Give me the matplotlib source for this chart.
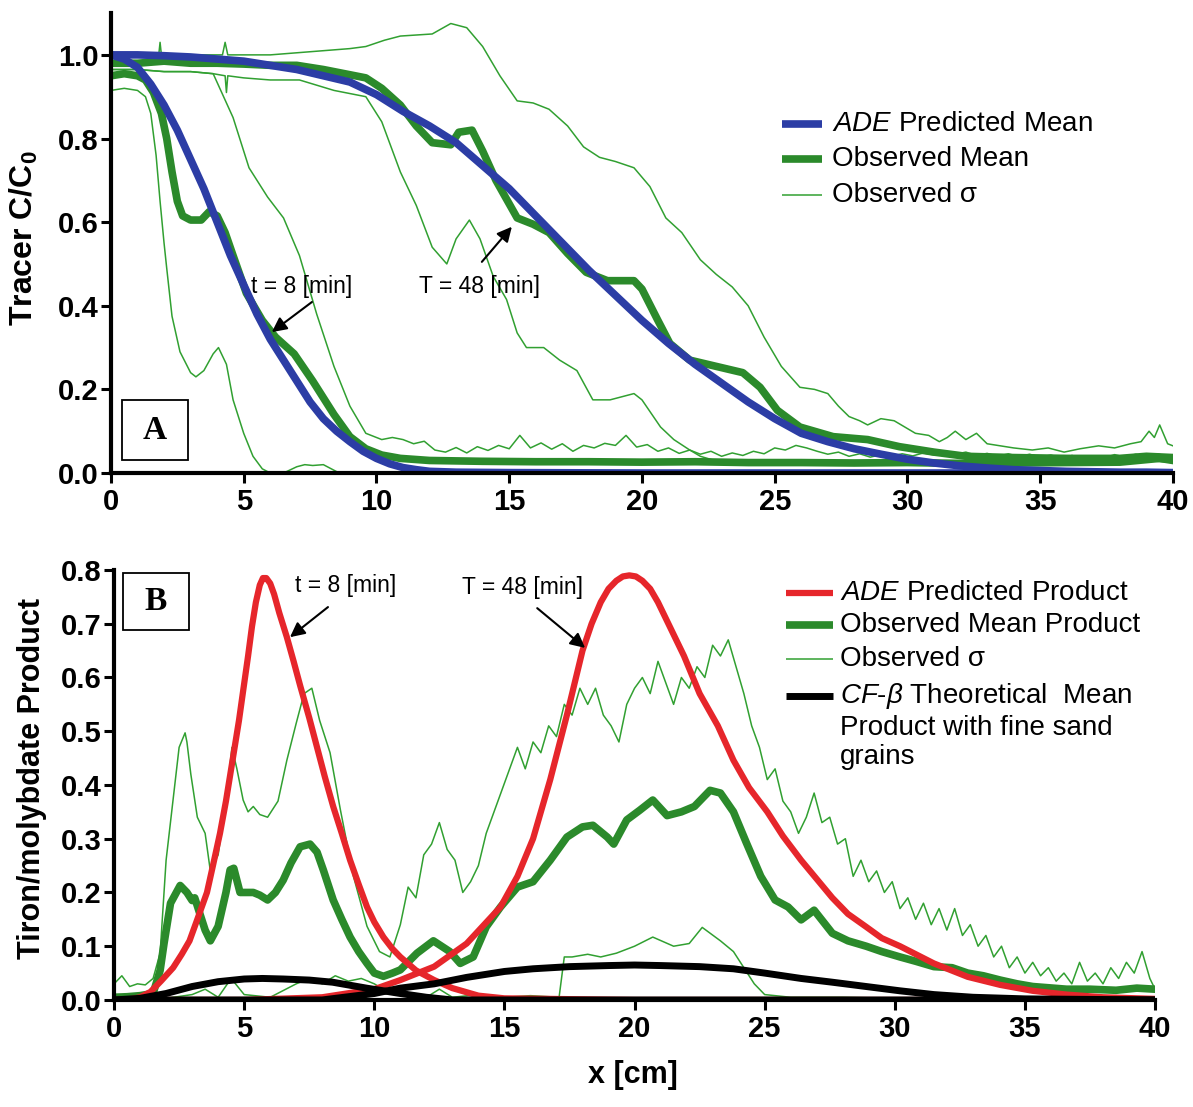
import matplotlib
matplotlib.use("Agg")
from matplotlib import pyplot as plt
from matplotlib.patches import Rectangle

# fonts: Arial-like sans, italic/bold pieces go through mathtext
plt.rcParams['font.family'] = ['Liberation Sans', 'DejaVu Sans']
plt.rcParams['mathtext.fontset'] = 'custom'
plt.rcParams['mathtext.rm'] = 'Liberation Sans'
plt.rcParams['mathtext.it'] = 'Liberation Sans:italic'
plt.rcParams['mathtext.bf'] = 'Liberation Sans:bold'

# ---------------- panel A : tracer C/C0 ----------------
xa_ade8 = [0, 0.5, 1, 1.5, 2, 2.5, 3, 3.5, 4, 4.5, 5, 5.5, 6, 6.5, 7, 7.5, 8, 8.5, 9, 9.5,
           10, 10.5, 11, 11.5, 12, 13, 15, 20, 30, 40]
ya_ade8 = [1.0, 0.99, 0.97, 0.93, 0.88, 0.82, 0.75, 0.68, 0.60, 0.52, 0.45, 0.38, 0.32, 0.27,
           0.22, 0.17, 0.13, 0.10, 0.075, 0.052, 0.035, 0.022, 0.013, 0.008, 0.004, 0.002,
           0.001, 0, 0, 0]

xa_ade48 = list(range(0, 41))
ya_ade48 = [1.0, 1.0, 0.998, 0.995, 0.99, 0.985, 0.975, 0.965, 0.95, 0.935, 0.905, 0.865,
            0.83, 0.79, 0.735, 0.68, 0.615, 0.55, 0.485, 0.425, 0.365, 0.31, 0.26, 0.215,
            0.17, 0.13, 0.095, 0.075, 0.058, 0.045, 0.033, 0.024, 0.017, 0.012, 0.008,
            0.006, 0.004, 0.003, 0.002, 0.002, 0.001]

xa_mean8 = [0, 0.5, 1.0, 1.3, 1.6, 1.9, 2.1, 2.3, 2.5, 2.7, 3.0, 3.4, 3.7, 4.0, 4.3, 4.6,
            5.1, 5.7, 6.2, 6.9, 7.6, 8.0, 8.4, 9.0, 9.6, 10.2, 10.9, 12, 14, 16, 18, 20,
            22, 24, 26, 28, 30, 32, 34, 36, 38, 39, 39.5, 40]
ya_mean8 = [0.95, 0.955, 0.95, 0.94, 0.91, 0.86, 0.80, 0.72, 0.65, 0.615, 0.605, 0.605,
            0.625, 0.615, 0.575, 0.52, 0.43, 0.365, 0.325, 0.285, 0.22, 0.18, 0.14, 0.087,
            0.058, 0.043, 0.035, 0.03, 0.028, 0.027, 0.027, 0.026, 0.027, 0.025, 0.025,
            0.024, 0.025, 0.023, 0.024, 0.025, 0.026, 0.032, 0.035, 0.03]

xa_mean48 = [0, 1, 2, 3, 4, 5, 6, 7, 8, 8.4, 9.6, 10.2, 10.9, 11.5, 12.1, 12.8, 13.1, 13.6,
             14.0, 14.5, 14.9, 15.3, 15.9, 16.5, 17.2, 17.9, 18.7, 19.7, 20.0, 20.6, 21.05,
             21.8, 22.8, 23.8, 24.45, 25.1, 25.95, 27.2, 28.5, 29.7, 31, 32.2, 34, 36, 38,
             39, 40]
ya_mean48 = [0.98, 0.98, 0.985, 0.98, 0.98, 0.978, 0.975, 0.975, 0.965, 0.96, 0.945, 0.92,
             0.88, 0.83, 0.79, 0.785, 0.815, 0.82, 0.77, 0.70, 0.655, 0.61, 0.595, 0.575,
             0.525, 0.48, 0.46, 0.46, 0.44, 0.365, 0.31, 0.27, 0.255, 0.24, 0.205, 0.15,
             0.11, 0.087, 0.08, 0.063, 0.05, 0.04, 0.037, 0.035, 0.035, 0.04, 0.037]

# observed sigma envelopes (thin lines)
xa_s8_lo = [0, 0.5, 1.0, 1.3, 1.5, 1.7, 1.85, 2.0, 2.1, 2.3, 2.6, 3.0, 3.2, 3.5, 3.85, 4.05,
            4.35, 4.6, 5.0, 5.35, 5.7, 6.0, 6.5, 7.0, 7.3, 7.6, 8.0, 8.3, 8.6, 9, 10, 20, 40]
ya_s8_lo = [0.915, 0.92, 0.915, 0.90, 0.86, 0.76, 0.65, 0.55, 0.49, 0.375, 0.29, 0.24, 0.23,
            0.245, 0.285, 0.30, 0.26, 0.175, 0.095, 0.04, 0.01, 0.0, 0.0, 0.015, 0.02, 0.018,
            0.02, 0.01, 0.0, 0.0, 0, 0, 0]

# t = 8 upper sigma: smooth drop, then a noisy baseline read every 0.4 cm
xa_s8_hi = [0, 1, 2, 3, 3.85, 4.6, 5.2, 5.9, 6.5, 7.1, 7.75, 8.4, 9.0, 9.6, 10.2, 10.6] \
    + [round(11 + 0.4 * i, 1) for i in range(73)]
ya_s8_hi = [0.965, 0.965, 0.96, 0.96, 0.955, 0.85, 0.73, 0.66, 0.61, 0.52, 0.38, 0.255,
            0.16, 0.095, 0.08, 0.085,
            0.080, 0.070, 0.076, 0.055, 0.050, 0.061, 0.048, 0.063, 0.054, 0.066, 0.058,
            0.090, 0.060, 0.072, 0.057, 0.070, 0.052, 0.066, 0.060, 0.071, 0.066, 0.090,
            0.062, 0.068, 0.052, 0.060, 0.047, 0.055, 0.045, 0.052, 0.040, 0.048, 0.042,
            0.052, 0.046, 0.060, 0.055, 0.066, 0.060, 0.052, 0.045, 0.050, 0.040, 0.046,
            0.038, 0.044, 0.040, 0.046, 0.041, 0.048, 0.043, 0.052, 0.045, 0.050, 0.042,
            0.047, 0.040, 0.046, 0.039, 0.045, 0.038, 0.043, 0.036, 0.042, 0.035, 0.041,
            0.036, 0.044, 0.038, 0.045, 0.040, 0.046, 0.040]

xa_s48_hi = [0, 1, 1.8, 1.85, 1.9, 3, 4.2, 4.3, 4.4, 5, 6, 7, 8, 9, 9.6, 10.3, 10.9, 12.1,
             12.8, 13.4, 14.0, 14.65, 15.3, 15.9, 16.5, 17.2, 17.8, 18.4, 19.0, 19.7, 20.3,
             20.9, 21.5, 22.2, 22.8, 23.4, 24.0, 24.6, 25.25, 25.95, 26.5, 27.0, 27.4, 27.8,
             28.2, 28.5, 29.0, 29.5, 29.9, 30.3, 30.8, 31.2, 31.5, 31.8, 32.2, 32.6, 33.0,
             33.5, 34.0, 34.7, 35.3, 35.9, 36.5, 37.2, 37.8, 38.4, 38.8, 39.1, 39.3, 39.5,
             39.8, 40]
ya_s48_hi = [0.995, 1.0, 1.0, 1.03, 1.0, 1.0, 1.0, 1.03, 1.0, 1.0, 1.0, 1.005, 1.01, 1.015,
             1.02, 1.035, 1.045, 1.05, 1.075, 1.065, 1.02, 0.95, 0.89, 0.885, 0.87, 0.83,
             0.78, 0.755, 0.745, 0.73, 0.685, 0.61, 0.575, 0.51, 0.475, 0.445, 0.40, 0.325,
             0.255, 0.205, 0.2, 0.19, 0.16, 0.135, 0.125, 0.115, 0.13, 0.125, 0.11, 0.095,
             0.09, 0.075, 0.085, 0.1, 0.08, 0.095, 0.07, 0.065, 0.06, 0.055, 0.06, 0.05,
             0.058, 0.065, 0.06, 0.07, 0.075, 0.1, 0.085, 0.115, 0.07, 0.065]

xa_s48_lo = [0, 1, 2, 3, 3.85, 4.3, 4.35, 4.4, 5, 6, 7.1, 8.4, 9.6, 10.2, 10.9, 11.5, 12.1,
             12.65, 13.0, 13.5, 13.9, 14.4, 14.9, 15.3, 15.65, 16.3, 16.9, 17.55, 18.15,
             18.8, 19.7, 20.0, 20.7, 21.2, 21.8, 22.2, 23, 24, 25, 26, 27, 28, 29, 30, 31,
             32, 33, 34, 35, 36, 37, 38, 39, 40]
ya_s48_lo = [0.965, 0.965, 0.96, 0.96, 0.955, 0.95, 0.91, 0.95, 0.945, 0.94, 0.94, 0.915,
             0.90, 0.84, 0.72, 0.64, 0.54, 0.50, 0.56, 0.605, 0.56, 0.47, 0.415, 0.335, 0.30,
             0.30, 0.27, 0.245, 0.175, 0.175, 0.19, 0.175, 0.11, 0.08, 0.055, 0.04, 0.025,
             0.02, 0.025, 0.02, 0.03, 0.025, 0.02, 0.025, 0.03, 0.025, 0.02, 0.025, 0.03,
             0.025, 0.03, 0.025, 0.03, 0.025]

# ---------------- panel B : product ----------------
xb_ade8 = [0, 0.5, 1.0, 1.4, 1.8, 2.27, 2.6, 2.9, 3.2, 3.57, 3.8, 4.07, 4.3, 4.6, 4.8, 4.96,
           5.15, 5.3, 5.45, 5.6, 5.72, 5.85, 6.0, 6.15, 6.35, 6.64, 6.9, 7.15, 7.5, 7.8,
           8.1, 8.42, 8.75, 9.07, 9.4, 9.72, 10.0, 10.35, 10.7, 11.0, 11.6, 12.3, 13, 14,
           15, 20, 40]
yb_ade8 = [0.0, 0.0, 0.005, 0.015, 0.035, 0.06, 0.085, 0.11, 0.15, 0.2, 0.25, 0.31, 0.37,
           0.46, 0.52, 0.575, 0.64, 0.695, 0.74, 0.772, 0.785, 0.785, 0.775, 0.755, 0.72,
           0.675, 0.63, 0.585, 0.525, 0.47, 0.415, 0.36, 0.31, 0.26, 0.215, 0.173, 0.145,
           0.117, 0.095, 0.08, 0.055, 0.037, 0.022, 0.008, 0.003, 0, 0]

xb_ade48 = [0, 5, 8, 10, 11.0, 12.3, 13.55, 14.85, 15.5, 16.1, 16.76, 17.4, 18.0, 18.35, 18.7,
            19.0, 19.3, 19.55, 19.8, 20.05, 20.3, 20.6, 20.9, 21.25, 21.9, 22.5, 23.2, 23.8,
            24.4, 25.1, 25.7, 26.4, 27.0, 27.6, 28.2, 28.9, 29.5, 30.2, 31.5, 32.8, 34.05,
            35.3, 36.6, 38, 40]
yb_ade48 = [0, 0, 0.005, 0.02, 0.037, 0.062, 0.105, 0.173, 0.23, 0.30, 0.41, 0.53, 0.65,
            0.70, 0.74, 0.765, 0.78, 0.788, 0.79, 0.788, 0.78, 0.765, 0.74, 0.705, 0.64,
            0.57, 0.51, 0.446, 0.395, 0.35, 0.305, 0.26, 0.225, 0.19, 0.16, 0.136, 0.115,
            0.1, 0.068, 0.043, 0.028, 0.017, 0.01, 0.005, 0.002]

xb_cf8 = [0, 1, 2, 3, 4, 5, 5.7, 6.5, 7.5, 8.4, 9.7, 11, 12, 13, 40]
yb_cf8 = [0, 0.003, 0.012, 0.025, 0.034, 0.039, 0.04, 0.039, 0.037, 0.033, 0.022, 0.012,
          0.005, 0, 0]
xb_cf48 = [0, 8, 10, 11, 12.3, 13.55, 15, 16.1, 17.5, 19, 20, 21, 22.5, 23.8, 25, 26.4, 27.6,
           28.9, 30.2, 31.5, 33, 35, 40]
yb_cf48 = [0, 0, 0.012, 0.022, 0.03, 0.042, 0.053, 0.058, 0.062, 0.064, 0.065, 0.064, 0.062,
           0.058, 0.05, 0.04, 0.033, 0.025, 0.017, 0.01, 0.005, 0.002, 0]

xb_mean = [0, 0.5, 1.0, 1.5, 1.77, 1.92, 2.17, 2.54, 2.8, 3.0, 3.1, 3.3, 3.5, 3.7, 4.0, 4.3,
           4.46, 4.6, 4.84, 5.1, 5.35, 5.6, 5.9, 6.2, 6.5, 6.8, 7.15, 7.53, 7.8, 8.04, 8.42,
           8.75, 9.07, 9.4, 9.72, 10.0, 10.35, 10.7, 11.0, 11.64, 12.27, 12.9, 13.3, 13.8,
           14.3, 14.85, 15.5, 16.1, 16.76, 17.4, 18.0, 18.4, 18.95, 19.2, 19.7, 20.2, 20.7,
           21.25, 21.8, 22.3, 22.9, 23.3, 23.8, 24.3, 24.85, 25.4, 25.9, 26.4, 26.9, 27.6,
           28.2, 28.9, 29.5, 30.2, 30.8, 31.5, 32.2, 32.8, 33.4, 34.05, 34.7, 35.3, 36.6,
           37.5, 38.5, 39.3, 40]
yb_mean = [0.005, 0.006, 0.008, 0.012, 0.055, 0.105, 0.18, 0.213, 0.2, 0.185, 0.19, 0.16,
           0.13, 0.11, 0.137, 0.2, 0.242, 0.245, 0.2, 0.2, 0.2, 0.195, 0.186, 0.2, 0.223,
           0.255, 0.285, 0.29, 0.275, 0.242, 0.186, 0.15, 0.117, 0.09, 0.068, 0.05, 0.044,
           0.05, 0.056, 0.087, 0.11, 0.09, 0.068, 0.08, 0.136, 0.173, 0.21, 0.22, 0.26,
           0.303, 0.322, 0.325, 0.303, 0.29, 0.335, 0.353, 0.372, 0.343, 0.35, 0.36, 0.39,
           0.385, 0.35, 0.292, 0.23, 0.186, 0.173, 0.149, 0.167, 0.124, 0.11, 0.1, 0.09,
           0.08, 0.072, 0.062, 0.06, 0.05, 0.045, 0.037, 0.03, 0.025, 0.02, 0.02, 0.018,
           0.022, 0.02]

# upper sigma: early peaks, then a noisy stretch read every 0.3 cm
xb_s_hi = [0, 0.3, 0.6, 0.9, 1.2, 1.5, 1.77, 2.0, 2.3, 2.5, 2.73, 2.8, 2.95, 3.2, 3.5, 3.7,
           4.0, 4.34, 4.53, 4.72, 4.96, 5.15, 5.35, 5.6, 5.9, 6.3, 6.64, 7.0, 7.3, 7.6, 7.9,
           8.3, 8.7, 9.2, 9.72, 10.2, 10.6] \
    + [round(11 + 0.3 * i, 1) for i in range(97)] + [39.95]
yb_s_hi = [0.03, 0.045, 0.025, 0.03, 0.028, 0.04, 0.087, 0.26, 0.385, 0.47, 0.497, 0.48,
           0.42, 0.34, 0.31, 0.24, 0.27, 0.385, 0.47, 0.43, 0.372, 0.35, 0.36, 0.345, 0.34,
           0.37, 0.446, 0.515, 0.57, 0.58, 0.52, 0.46, 0.353, 0.23, 0.137, 0.09, 0.08,
           0.14, 0.21, 0.19, 0.27, 0.29, 0.33, 0.28, 0.26, 0.20, 0.22, 0.25, 0.31, 0.35,
           0.39, 0.43, 0.47, 0.43, 0.48, 0.46, 0.51, 0.49, 0.55, 0.53, 0.58, 0.55, 0.58,
           0.53, 0.51, 0.48, 0.55, 0.58, 0.60, 0.57, 0.63, 0.59, 0.55, 0.60, 0.58, 0.62,
           0.60, 0.66, 0.64, 0.67, 0.62, 0.57, 0.51, 0.47, 0.41, 0.43, 0.37, 0.35, 0.31,
           0.34, 0.385, 0.33, 0.34, 0.29, 0.30, 0.23, 0.26, 0.22, 0.24, 0.20, 0.22, 0.17,
           0.19, 0.15, 0.18, 0.14, 0.17, 0.13, 0.17, 0.12, 0.14, 0.10, 0.12, 0.08, 0.10,
           0.06, 0.08, 0.05, 0.07, 0.045, 0.06, 0.035, 0.05, 0.03, 0.07, 0.035, 0.05, 0.03,
           0.06, 0.04, 0.07, 0.05, 0.09, 0.04, 0.025]

xb_s_lo = [0, 1, 2, 3, 3.5, 4, 4.5, 5, 6, 7, 7.5, 8, 8.5, 9, 9.5, 10, 10.5, 11, 12, 12.5, 13,
           14, 15, 16, 17.1, 17.3, 17.6, 18.2, 18.7, 19.3, 20.0, 20.7, 21.5, 22.1, 22.6,
           23.3, 23.8, 24.2, 24.6, 25, 26, 28, 30, 35, 40]
yb_s_lo = [0.005, 0.005, 0.003, 0.01, 0.02, 0.005, 0.04, 0.01, 0.005, 0.03, 0.04, 0.03,
           0.045, 0.035, 0.04, 0.03, 0.015, 0.01, 0.005, 0.02, 0.005, 0.01, 0.005, 0.008,
           0.005, 0.08, 0.08, 0.085, 0.08, 0.087, 0.1, 0.117, 0.1, 0.105, 0.135, 0.11, 0.09,
           0.06, 0.03, 0.01, 0.005, 0.005, 0.003, 0.002, 0.002]

x_ticks = [0, 5, 10, 15, 20, 25, 30, 35, 40]
ya_ticks = [0.0, 0.2, 0.4, 0.6, 0.8, 1.0]
yb_ticks = [0.0, 0.1, 0.2, 0.3, 0.4, 0.5, 0.6, 0.7, 0.8]

BLUE = '#2c3da5'
GREEN = '#2b8a2b'
GREEN_THIN = '#31a031'
RED = '#e6262b'

fig = plt.figure(figsize=(11.93, 11.07), dpi=100)
axA = fig.add_axes([0.0930, 0.5727, 0.8902, 0.4155])
axB = fig.add_axes([0.0956, 0.0967, 0.8726, 0.3884])


def style_axis(ax, yticks):
    for s in ['top', 'right']:
        ax.spines[s].set_visible(False)
    for s in ['left', 'bottom']:
        ax.spines[s].set_linewidth(3)
    ax.set_xlim(0, 40)
    ax.set_xticks(x_ticks, [str(t) for t in x_ticks], fontweight='bold')
    ax.set_yticks(yticks, ['%.1f' % t for t in yticks], fontweight='bold')
    ax.tick_params(axis='both', direction='out', length=7, width=2.2, labelsize=21)
    ax.tick_params(axis='x', pad=4)
    ax.tick_params(axis='y', pad=2)


def legend_row(ax, y, color, lw, label, x0, x1, xt):
    ax.plot([x0, x1], [y, y], color=color, lw=lw, transform=ax.transAxes,
            clip_on=False, solid_capstyle='butt')
    ax.text(xt, y, label, transform=ax.transAxes, fontsize=20, va='center', ha='left')


def panel_box(ax, x0, y0, w, h, letter):
    ax.add_patch(Rectangle((x0, y0), w, h, transform=ax.transAxes, fill=False,
                           lw=1.3, edgecolor='black', clip_on=False))
    ax.text(x0 + w / 2, y0 + h / 2, letter, transform=ax.transAxes, ha='center',
            va='center', fontsize=24, fontweight='bold', family='Liberation Serif')


# ---------- panel A ----------
kw_thin = dict(color=GREEN_THIN, lw=1.1)
axA.plot(xa_s8_lo, ya_s8_lo, **kw_thin)
axA.plot(xa_s8_hi, ya_s8_hi, **kw_thin)
axA.plot(xa_s48_lo, ya_s48_lo, **kw_thin)
axA.plot(xa_s48_hi, ya_s48_hi, **kw_thin)
axA.plot(xa_mean8, ya_mean8, color=GREEN, lw=5.5, solid_joinstyle='round')
axA.plot(xa_mean48, ya_mean48, color=GREEN, lw=5.5, solid_joinstyle='round')
axA.plot(xa_ade8, ya_ade8, color=BLUE, lw=5.5, solid_joinstyle='round')
axA.plot(xa_ade48, ya_ade48, color=BLUE, lw=5.5, solid_joinstyle='round')
style_axis(axA, ya_ticks)
axA.set_ylim(0, 1.1)
axA.set_ylabel('Tracer C/C$_{\\mathbf{0}}$', fontsize=23, fontweight='bold')
axA.yaxis.set_label_coords(-0.067, 0.511)

arrow = dict(arrowstyle='-|>', color='black', lw=1.5, mutation_scale=22,
             shrinkA=0, shrinkB=0)
axA.text(7.2, 0.445, 't = 8 [min]', fontsize=16.5, ha='center', va='center')
axA.annotate('', xy=(6.06, 0.337), xytext=(7.57, 0.409), arrowprops=arrow)
axA.text(13.9, 0.445, 'T = 48 [min]', fontsize=16.5, ha='center', va='center')
axA.annotate('', xy=(15.1, 0.589), xytext=(13.97, 0.505), arrowprops=arrow)

legend_row(axA, 0.758, BLUE, 5.5, r'$\mathit{ADE}$ Predicted Mean', 0.632, 0.670, 0.679)
legend_row(axA, 0.682, GREEN, 5.5, 'Observed Mean', 0.632, 0.670, 0.679)
legend_row(axA, 0.604, GREEN_THIN, 1.1, 'Observed σ', 0.632, 0.670, 0.679)
panel_box(axA, 0.0104, 0.028, 0.062, 0.131, 'A')

# ---------- panel B ----------
axB.plot(xb_s_lo, yb_s_lo, **kw_thin)
axB.plot(xb_s_hi, yb_s_hi, **kw_thin)
axB.plot(xb_mean, yb_mean, color=GREEN, lw=5.5, solid_joinstyle='round')
axB.plot(xb_ade8, yb_ade8, color=RED, lw=4.5, solid_joinstyle='round')
axB.plot(xb_ade48, yb_ade48, color=RED, lw=4.5, solid_joinstyle='round')
axB.plot(xb_cf8, yb_cf8, color='black', lw=5, solid_joinstyle='round')
axB.plot(xb_cf48, yb_cf48, color='black', lw=5, solid_joinstyle='round')
style_axis(axB, yb_ticks)
axB.set_ylim(0, 0.8)
axB.set_ylabel('Tiron/molybdate Product', fontsize=22, fontweight='bold')
axB.yaxis.set_label_coords(-0.064, 0.516)
axB.set_xlabel('x [cm]', fontsize=22, fontweight='bold')
axB.xaxis.set_label_coords(0.4985, -0.14)

axB.text(8.88, 0.772, 't = 8 [min]', fontsize=16.5, ha='center', va='center')
axB.annotate('', xy=(6.76, 0.675), xytext=(8.22, 0.731), arrowprops=arrow)
axB.text(15.68, 0.767, 'T = 48 [min]', fontsize=16.5, ha='center', va='center')
axB.annotate('', xy=(18.1, 0.655), xytext=(16.26, 0.729), arrowprops=arrow)

legend_row(axB, 0.946, RED, 4.5, r'$\mathit{ADE}$ Predicted Product', 0.645, 0.691, 0.697)
legend_row(axB, 0.873, GREEN, 5.5, 'Observed Mean Product', 0.645, 0.691, 0.697)
legend_row(axB, 0.792, GREEN_THIN, 1.1, 'Observed σ', 0.645, 0.691, 0.697)
axB.plot([0.645, 0.691], [0.707, 0.707], color='black', lw=5, transform=axB.transAxes,
         clip_on=False, solid_capstyle='butt')
axB.text(0.697, 0.742, r'$\mathit{CF}$-$\mathit{\beta}$ Theoretical  Mean' + '\n'
         + 'Product with fine sand\ngrains', transform=axB.transAxes, fontsize=20,
         va='top', ha='left', linespacing=1.18)
panel_box(axB, 0.0086, 0.860, 0.0634, 0.133, 'B')

fig.savefig('out.png', dpi=100)
